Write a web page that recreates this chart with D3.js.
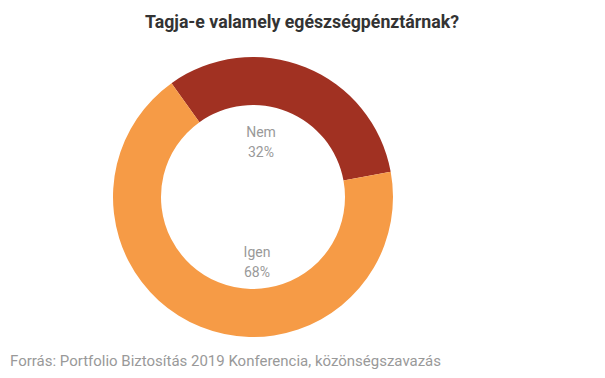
<!DOCTYPE html>
<html><head><meta charset="utf-8">
<script src="https://cdn.jsdelivr.net/npm/d3@7"></script>
<style>html,body{margin:0;padding:0;background:#fff;}</style>
</head><body>
<svg id="chart" width="605" height="378"></svg>
<script>
const title = "Tagja-e valamely egészségpénztárnak?";
const source = "Forrás: Portfolio Biztosítás 2019 Konferencia, közönségszavazás";
const categories = ["Nem", "Igen"];
const values = [32, 68];
const colors = ["#A13122", "#F69B46"];

const svg = d3.select("#chart");
const cx = 253, cy = 197, outerR = 140, innerR = 92;
const startDeg = -35.6;

const pie = d3.pie().sort(null).value(d => d.value)
  .startAngle(startDeg * Math.PI / 180)
  .endAngle((startDeg + 360) * Math.PI / 180);
const arc = d3.arc().innerRadius(innerR).outerRadius(outerR);
const data = categories.map((c, i) => ({cat: c, value: values[i], color: colors[i]}));

const g = svg.append("g").attr("transform", `translate(${cx},${cy})`);
g.selectAll("path").data(pie(data)).join("path")
  .attr("d", arc).attr("fill", d => d.data.color);

// labels inside the hole
const labelPos = {"Nem": [8, -60], "Igen": [4, 60]};
data.forEach(d => {
  const [lx, ly] = labelPos[d.cat];
  const t = g.append("text").attr("text-anchor", "middle")
    .attr("font-family", "Roboto, sans-serif").attr("font-size", 14)
    .attr("fill", "#999");
  t.append("tspan").attr("x", lx).attr("y", ly).text(d.cat);
  t.append("tspan").attr("x", lx).attr("y", ly + 20).text(d.value + "%");
});

svg.append("text").attr("x", 302).attr("y", 27.5).attr("text-anchor", "middle")
  .attr("font-family", "Roboto, sans-serif").attr("font-weight", "bold")
  .attr("font-size", 18).attr("fill", "#333")
  .attr("textLength", 314).attr("lengthAdjust", "spacingAndGlyphs")
  .text(title);

svg.append("text").attr("x", 10).attr("y", 366)
  .attr("font-family", "Roboto, sans-serif").attr("font-size", 14)
  .attr("fill", "#999")
  .attr("textLength", 431).attr("lengthAdjust", "spacingAndGlyphs")
  .text(source);
</script>
</body></html>
